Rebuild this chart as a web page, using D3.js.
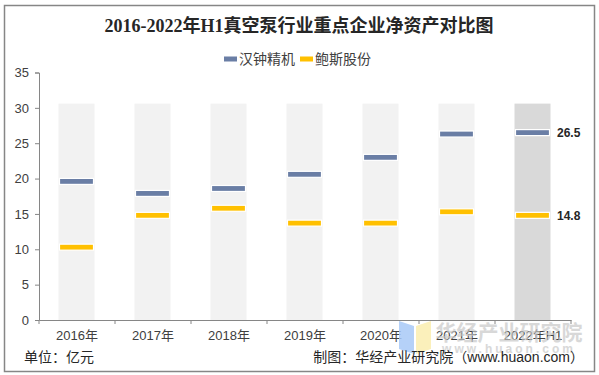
<!DOCTYPE html>
<html>
<head>
<meta charset="utf-8">
<script src="https://cdn.jsdelivr.net/npm/d3@7/dist/d3.min.js"></script>
<style>
  html, body { margin: 0; padding: 0; background: #fff; }
  #chart { width: 599px; height: 375px; }
  text { font-family: "Liberation Sans", "Noto Sans CJK SC", sans-serif; }
</style>
</head>
<body>
<div id="chart"></div>
<script>
// 数据
var years = ['2016年', '2017年', '2018年', '2019年', '2020年', '2021年', '2022年H1'];
var hanzhong = [19.6, 17.9, 18.6, 20.6, 23.0, 26.3, 26.5];
var baosi = [10.3, 14.8, 15.8, 13.7, 13.7, 15.3, 14.8];
var bgValues = [30.6, 30.6, 30.6, 30.6, 30.6, 30.6, 30.6];
var yTicks = [0, 5, 10, 15, 20, 25, 30, 35];
var seriesNames = ['汉钟精机', '鲍斯股份'];
var colors = ['#6a7ea5', '#ffc000'];

drawChart('chart');

function drawChart(divName) {
    var svgwidth = 599, svgheight = 375;
    var svg = d3.select('#' + divName).append('svg')
        .attr('width', svgwidth)
        .attr('height', svgheight);

    // 外框
    svg.append('rect')
        .attr('x', 4.5).attr('y', 5.5)
        .attr('width', 590).attr('height', 366)
        .attr('fill', '#fff')
        .attr('stroke', '#868686')
        .attr('stroke-width', 1.5);

    // 标题
    svg.append('text')
        .attr('x', 299).attr('y', 32)
        .attr('text-anchor', 'middle')
        .style('font-family', '"Liberation Serif", "Noto Sans CJK SC", serif')
        .style('font-size', '18px')
        .style('font-weight', 'bold')
        .attr('fill', '#262626')
        .text('2016-2022年H1真空泵行业重点企业净资产对比图');

    // 图例
    var legendX = [224, 300];
    seriesNames.forEach(function (name, i) {
        var g = svg.append('g').attr('transform', 'translate(' + legendX[i] + ',59)');
        g.append('rect').attr('x', 0).attr('y', -2.5).attr('width', 13).attr('height', 5).attr('fill', colors[i]);
        g.append('text').attr('x', 15).attr('y', 0).attr('dy', '0.35em')
            .style('font-size', '14px').attr('fill', '#404040').text(name);
    });

    var x = d3.scaleBand().domain(years).range([39, 571]).padding(0);
    var y = d3.scaleLinear().domain([0, 35]).range([320, 72.5]);

    // 背景柱
    svg.append('g').selectAll('rect')
        .data(bgValues)
        .enter().append('rect')
        .attr('x', function (d, i) { return x(years[i]) + x.bandwidth() / 2 - 18.5; })
        .attr('y', function (d) { return y(d); })
        .attr('width', 36)
        .attr('height', function (d) { return y(0) - y(d); })
        .attr('fill', function (d, i) { return i === years.length - 1 ? '#d9d9d9' : '#f2f2f2'; });

    // y轴
    var yAxis = svg.append('g')
        .attr('transform', 'translate(39,0)')
        .call(d3.axisLeft(y).tickValues(yTicks).tickSize(4).tickPadding(6));
    yAxis.select('.domain').attr('stroke', '#868686');
    yAxis.selectAll('.tick line').attr('stroke', '#868686');
    yAxis.selectAll('.tick text').style('font-size', '13px').attr('fill', '#404040')
        .style('font-family', '"Liberation Sans", sans-serif');

    // x轴
    var xAxis = svg.append('g')
        .attr('transform', 'translate(0,320)')
        .call(d3.axisBottom(x).tickSize(0).tickPadding(11));
    xAxis.select('.domain').attr('stroke', '#868686');
    xAxis.selectAll('.tick text').style('font-size', '13px').attr('fill', '#404040');
    svg.append('g').selectAll('line')
        .data(years.concat(['end']))
        .enter().append('line')
        .attr('x1', function (d, i) { return 39 + i * x.bandwidth(); })
        .attr('x2', function (d, i) { return 39 + i * x.bandwidth(); })
        .attr('y1', 320).attr('y2', 324)
        .attr('stroke', '#868686');

    // 数据标记
    [hanzhong, baosi].forEach(function (vals, s) {
        svg.append('g').selectAll('rect')
            .data(vals)
            .enter().append('rect')
            .attr('x', function (d, i) { return x(years[i]) + x.bandwidth() / 2 - 17.5; })
            .attr('y', function (d) { return y(d) - 3; })
            .attr('width', 34)
            .attr('height', 6)
            .attr('fill', colors[s])
            .attr('stroke', '#fff')
            .attr('stroke-width', 1.2);
        var last = vals.length - 1;
        svg.append('text')
            .attr('x', x(years[last]) + x.bandwidth() / 2 + 24)
            .attr('y', y(vals[last]))
            .attr('dy', '0.35em')
            .style('font-size', '12px')
            .style('font-weight', 'bold')
            .attr('fill', '#262626')
            .text(vals[last].toFixed(1));
    });

    // 水印
    var wm = svg.append('g').attr('opacity', 0.85);
    wm.append('path').attr('d', 'M399,321 L414,326 L414,354 L399,349 Z').attr('fill', '#a9c9f7');
    wm.append('path').attr('d', 'M416,326 L431,321 L431,349 L416,354 Z').attr('fill', '#fbeeb0');
    wm.append('text').attr('x', 509).attr('y', 340).attr('text-anchor', 'middle')
        .style('font-size', '21px').style('font-weight', 'bold')
        .attr('fill', '#c8c8c8').attr('opacity', 0.8).text('华经产业研究院');
    wm.append('text').attr('x', 509).attr('y', 353).attr('text-anchor', 'middle')
        .style('font-size', '12px').style('font-weight', 'bold').style('letter-spacing', '3px')
        .attr('fill', '#c8c8c8').attr('opacity', 0.8).text('www.huaon.com');

    // 底部说明
    svg.append('text').attr('x', 24).attr('y', 362)
        .style('font-size', '14px').attr('fill', '#262626').text('单位：亿元');
    svg.append('text').attr('x', 584).attr('y', 362).attr('text-anchor', 'end')
        .style('font-size', '14px').attr('fill', '#262626').text('制图：华经产业研究院（www.huaon.com）');
}
</script>
</body>
</html>
